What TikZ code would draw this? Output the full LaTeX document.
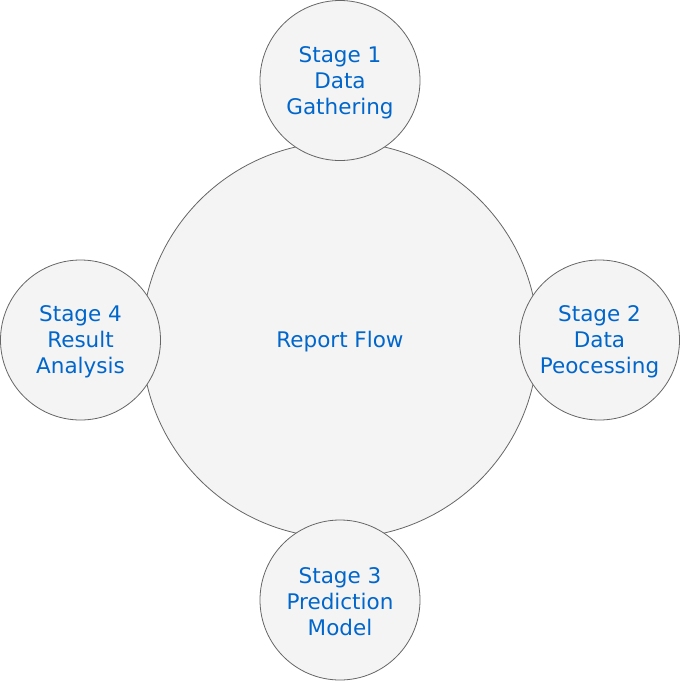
\documentclass[tikz,border=0pt]{standalone}
\usepackage{fontspec}
\setmainfont{DejaVu Sans}
\definecolor{txt}{HTML}{0066CC}
\definecolor{fillc}{HTML}{F4F4F4}
\definecolor{linec}{HTML}{666666}
\tikzset{
  circ/.style={circle, draw=linec, fill=fillc, line width=0.8pt, inner sep=0pt},
  bigc/.style={circ, minimum size=396pt},
  smallc/.style={circ, minimum size=160pt},
  lbl/.style={text=txt, align=center, font=\fontsize{21.5}{26}\selectfont, yshift=-2pt},
}
\begin{document}
\begin{tikzpicture}[x=1pt,y=-1pt]
\useasboundingbox (0,0) rectangle (680,681);
\node[bigc, label={[lbl]center:Report Flow}] (flow) at (340,340) {};
\node[smallc, label={[lbl]center:Stage 1\\Data\\Gathering}] (s1) at (340,80.5) {};
\node[smallc, label={[lbl]center:Stage 2\\Data\\Peocessing}] (s2) at (599.5,340) {};
\node[smallc, label={[lbl]center:Stage 3\\Prediction\\Model}] (s3) at (340,600) {};
\node[smallc, label={[lbl]center:Stage 4\\Result\\Analysis}] (s4) at (80.5,340) {};
\end{tikzpicture}
\end{document}
